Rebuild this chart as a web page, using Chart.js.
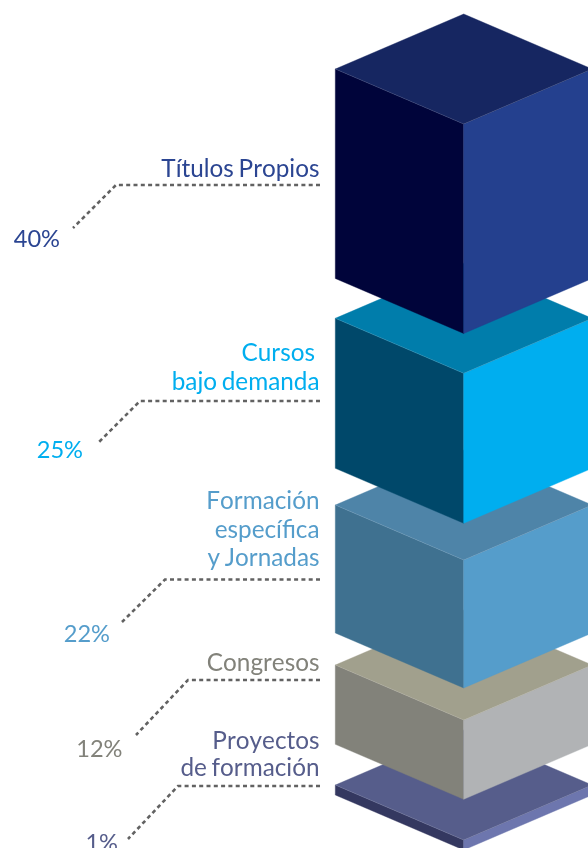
<!DOCTYPE html>
<html>
<head>
<meta charset="utf-8">
<style>html,body{margin:0;padding:0;background:#fff}canvas{display:block}</style>
<script src="https://cdn.jsdelivr.net/npm/chart.js@4/dist/chart.umd.min.js"></script>
</head>
<body>
<canvas id="c" width="588" height="848"></canvas>
<script>
// Data
const categories = ['Títulos Propios', 'Cursos \nbajo demanda', 'Formación\nespecífica\ny Jornadas', 'Congresos', 'Proyectos\nde formación'];
const percentages = [40, 25, 22, 12, 1];
const blockBottoms = [502.5, 312.7, 148, 36.7, -14];
const blockTops = [712, 462.7, 276, 116, -4];

// Styles
const topColors = ['#162661', '#007DAB', '#4E84A8', '#A1A08D', '#565D8B'];
const leftColors = ['#00043A', '#00486A', '#3F7190', '#82827A', '#343860'];
const rightColors = ['#24408E', '#00AEEF', '#559DCB', '#B1B3B5', '#6D76AE'];
const textColors = ['#2B4592', '#00AEEF', '#559DCB', '#82827A', '#565D8B'];

// Layout of the annotations, in canvas pixels
const labelBaselines = [[176.5], [361, 390], [508.5, 537.5, 565.5], [671], [748.5, 776]];
const percentAnchors = [[60, 247], [83, 458], [110, 642], [122.5, 757], [118, 851]];
const leaderPaths = [
  [[320, 185], [116, 185], [73, 228]],
  [[320, 401], [140, 401], [97, 444]],
  [[320, 579.5], [165, 579.5], [122, 622]],
  [[320, 680], [188, 680], [136, 735]],
  [[320, 786], [178, 786], [128, 839]]
];
const TOP_RISE = 55 / 128.4;
const FONT = '24.3px Lato';
const PERCENT_FONT = '23.6px Lato';

function poly(ctx, pts, fill) {
  ctx.beginPath();
  pts.forEach((p, i) => i ? ctx.lineTo(p[0], p[1]) : ctx.moveTo(p[0], p[1]));
  ctx.closePath();
  ctx.fillStyle = fill;
  ctx.fill();
  ctx.strokeStyle = fill;
  ctx.lineWidth = 0.4;
  ctx.stroke();
}

const isoBlocks = {
  id: 'isoBlocks',
  afterDatasetDraw(chart, args) {
    const i = args.index;
    const bar = args.meta.data[0].getProps(['x', 'width'], true);
    const ctx = chart.ctx;
    const half = bar.width / 2, rise = half * TOP_RISE;
    const x = bar.x;
    const t = chart.scales.y.getPixelForValue(blockTops[i]);
    const b = chart.scales.y.getPixelForValue(blockBottoms[i]);
    ctx.save();
    poly(ctx, [[x - half, t - rise], [x, t], [x, b], [x - half, b - rise]], leftColors[i]);
    poly(ctx, [[x + half, t - rise], [x, t], [x, b], [x + half, b - rise]], rightColors[i]);
    poly(ctx, [[x, t - 2 * rise], [x + half, t - rise], [x, t], [x - half, t - rise]], topColors[i]);
    ctx.strokeStyle = 'rgba(255,255,255,0.13)';
    ctx.lineWidth = 0.7;
    ctx.beginPath();
    ctx.moveTo(x - half, t - rise); ctx.lineTo(x, t); ctx.lineTo(x + half, t - rise);
    ctx.stroke();
    ctx.restore();
  },
  afterDraw(chart) {
    const ctx = chart.ctx;
    ctx.save();
    categories.forEach((name, i) => {
      ctx.font = FONT;
      ctx.fontKerning = 'none';
      ctx.wordSpacing = '-1.5px';
      ctx.fillStyle = textColors[i];
      ctx.textAlign = 'right';
      ctx.textBaseline = 'alphabetic';
      name.split('\n').forEach((line, k) => {
        const clean = line.trimEnd();
        const trail = line.length > clean.length ? 4.5 : 0;
        ctx.fillText(clean, 319.5 - trail, labelBaselines[i][k]);
      });
      ctx.font = PERCENT_FONT;
      ctx.fillText(percentages[i] + '%', percentAnchors[i][0], percentAnchors[i][1]);

      ctx.strokeStyle = '#626262';
      ctx.lineWidth = 2.6;
      ctx.setLineDash([4, 3.3]);
      ctx.beginPath();
      leaderPaths[i].forEach((p, k) => k ? ctx.lineTo(p[0], p[1]) : ctx.moveTo(p[0], p[1]));
      ctx.stroke();
    });
    ctx.restore();
  }
};

new Chart(document.getElementById('c'), {
  type: 'bar',
  data: {
    labels: ['Distribución'],
    datasets: categories.map((name, i) => ({
      label: name.replace(/\s*\n/g, ' '),
      data: [[blockBottoms[i], blockTops[i]]],
      grouped: false,
      barThickness: 256.8,
      backgroundColor: 'rgba(0,0,0,0)',
      borderWidth: 0
    }))
  },
  options: {
    responsive: false,
    animation: false,
    layout: { padding: { left: 339.4, right: 0, top: 0, bottom: 0 } },
    plugins: { legend: { display: false }, tooltip: { enabled: false }, title: { display: false } },
    scales: {
      x: { display: false },
      y: { display: false, min: -12, max: 836 }
    }
  },
  plugins: [isoBlocks]
});
</script>
</body>
</html>
</script>
